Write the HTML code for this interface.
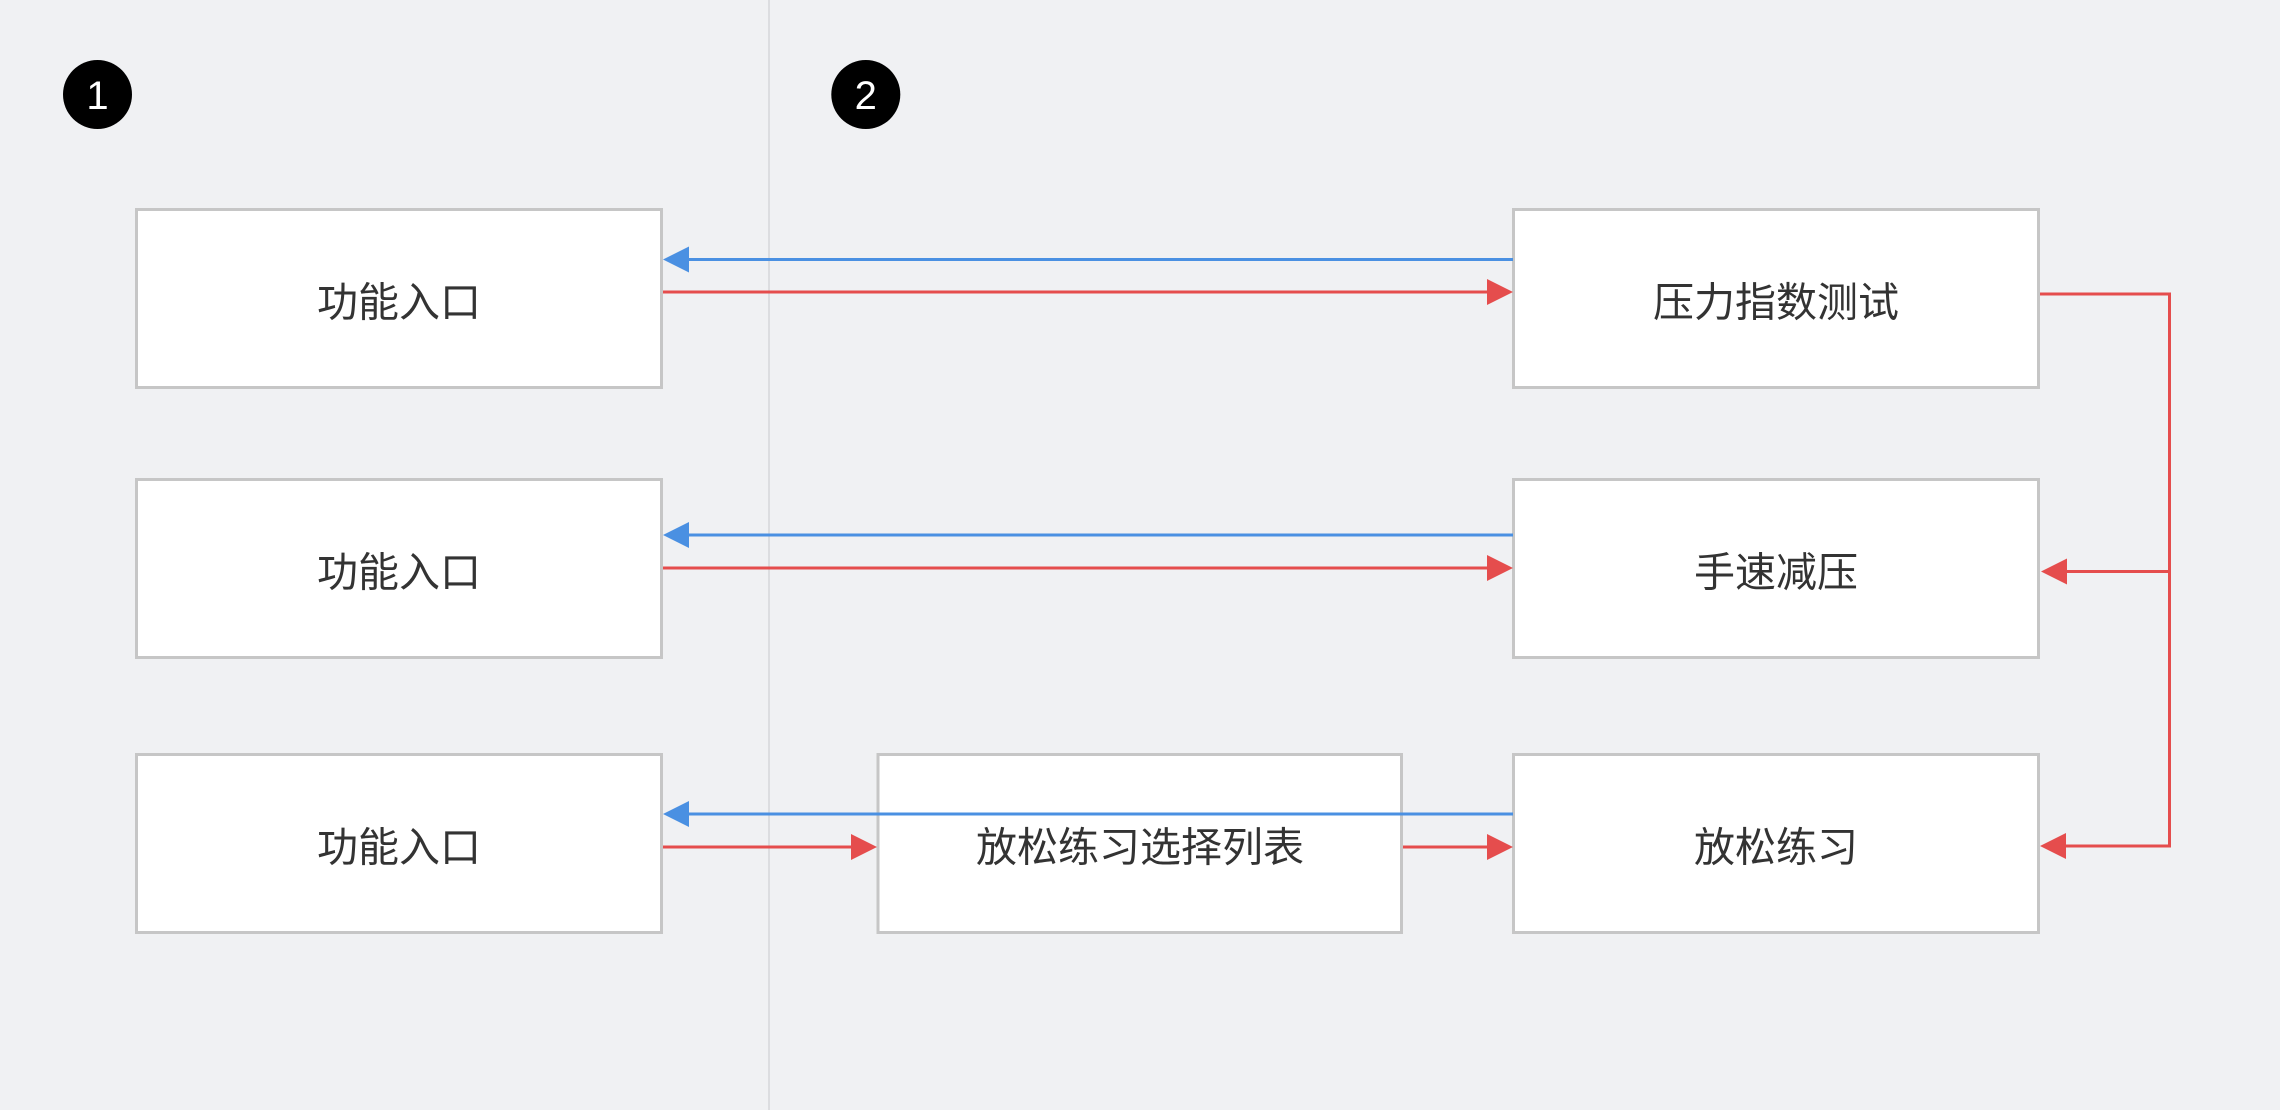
<!DOCTYPE html>
<html><head><meta charset="utf-8"><style>
html,body{margin:0;padding:0;background:#f0f1f3;}
svg{display:block;}
text{font-family:"Liberation Sans","Noto Sans CJK SC",sans-serif;}
</style></head><body>
<svg width="2280" height="1110" viewBox="0 0 2280 1110" xmlns="http://www.w3.org/2000/svg">
<rect x="0" y="0" width="2280" height="1110" fill="#f0f1f3"/>
<line x1="769" y1="0" x2="769" y2="1110" stroke="#dcdde0" stroke-width="2"/>
<circle cx="97.5" cy="94.5" r="34.5" fill="#000"/>
<circle cx="865.8" cy="94.5" r="34.5" fill="#000"/>
<text x="97.5" y="109" fill="#fff" font-size="40" text-anchor="middle">1</text>
<text x="865.8" y="109" fill="#fff" font-size="40" text-anchor="middle">2</text>
<g fill="#fff" stroke="#c6c6c6" stroke-width="3">
<rect x="136.5" y="209.5" width="525" height="178"/>
<rect x="136.5" y="479.5" width="525" height="178"/>
<rect x="136.5" y="754.5" width="525" height="178"/>
<rect x="1513.5" y="209.5" width="525" height="178"/>
<rect x="1513.5" y="479.5" width="525" height="178"/>
<rect x="1513.5" y="754.5" width="525" height="178"/>
<rect x="878" y="754.5" width="523.5" height="178"/>
</g>
<g fill="#333" font-size="41" text-anchor="middle" dominant-baseline="central">
<text x="399" y="302.5">功能入口</text>
<text x="399" y="572.5">功能入口</text>
<text x="399" y="847.5">功能入口</text>
<text x="1776" y="302.5">压力指数测试</text>
<text x="1776" y="572.5">手速减压</text>
<text x="1776" y="847.5">放松练习</text>
<text x="1140" y="847.5">放松练习选择列表</text>
</g>
<g stroke="#4a90e2" stroke-width="3" fill="none">
<line x1="686" y1="259.5" x2="1513" y2="259.5"/>
<line x1="686" y1="535" x2="1513" y2="535"/>
<line x1="686" y1="814" x2="1513" y2="814"/>
</g>
<g fill="#4a90e2">
<polygon points="663,259.5 689,246.5 689,272.5"/>
<polygon points="663,535 689,522 689,548"/>
<polygon points="663,814 689,801 689,827"/>
</g>
<g stroke="#e54d4d" stroke-width="3" fill="none">
<line x1="663" y1="292" x2="1490" y2="292"/>
<line x1="663" y1="568" x2="1490" y2="568"/>
<line x1="663" y1="847" x2="855" y2="847"/>
<line x1="1403" y1="847" x2="1490" y2="847"/>
<polyline points="2040,294 2169.5,294 2169.5,846 2064,846"/>
<line x1="2169.5" y1="571.5" x2="2064" y2="571.5"/>
</g>
<g fill="#e54d4d">
<polygon points="1513,292 1487,279 1487,305"/>
<polygon points="1513,568 1487,555 1487,581"/>
<polygon points="877,847 851,834 851,860"/>
<polygon points="1513,847 1487,834 1487,860"/>
<polygon points="2041,571.5 2067,558.5 2067,584.5"/>
<polygon points="2040,846 2066,833 2066,859"/>
</g>
</svg>
</body></html>
